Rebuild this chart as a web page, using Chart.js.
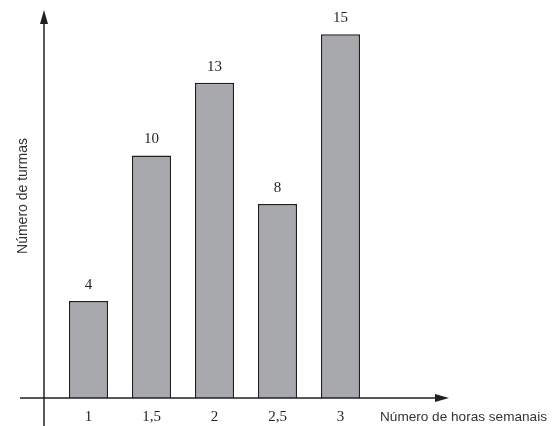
<!DOCTYPE html>
<html>
<head>
<meta charset="utf-8">
<script src="https://cdn.jsdelivr.net/npm/chart.js@4/dist/chart.umd.min.js"></script>
<style>
  html, body { margin: 0; padding: 0; background: #fff; }
  #wrap { width: 558px; height: 426px; position: relative; }
</style>
</head>
<body>
<div id="wrap"><canvas id="barChart"></canvas></div>
<script>
// dados do gráfico
const horas = ['1', '1,5', '2', '2,5', '3'];
const turmas = [4, 10, 13, 8, 15];
const yMax = 16;

const tituloX = 'Número de horas semanais';
const tituloY = 'Número de turmas';

// eixos com setas, rótulos e valores sobre as barras
const eixos = {
    id: 'eixos',
    afterDatasetsDraw(chart) {
        const ctx = chart.ctx;
        const xs = chart.scales.x;
        const ys = chart.scales.y;
        const y0 = ys.getPixelForValue(0);
        const eixoX = 44;

        ctx.save();
        ctx.strokeStyle = '#231f20';
        ctx.fillStyle = '#231f20';
        ctx.lineWidth = 1.5;

        // eixo horizontal
        ctx.beginPath();
        ctx.moveTo(20, y0);
        ctx.lineTo(440, y0);
        ctx.stroke();
        ctx.beginPath();
        ctx.moveTo(449, y0);
        ctx.lineTo(435, y0 - 4);
        ctx.lineTo(435, y0 + 4);
        ctx.closePath();
        ctx.fill();

        // eixo vertical
        ctx.beginPath();
        ctx.moveTo(eixoX, 426);
        ctx.lineTo(eixoX, 20);
        ctx.stroke();
        ctx.beginPath();
        ctx.moveTo(eixoX, 10);
        ctx.lineTo(eixoX - 4, 24);
        ctx.lineTo(eixoX + 4, 24);
        ctx.closePath();
        ctx.fill();

        // rótulos das categorias
        ctx.font = '15px "Liberation Serif", "DejaVu Serif", serif';
        ctx.textAlign = 'center';
        ctx.textBaseline = 'middle';
        horas.forEach((h, i) => {
            ctx.fillText(h, xs.getPixelForValue(i), y0 + 19);
        });

        // valores sobre as barras
        const meta = chart.getDatasetMeta(0);
        meta.data.forEach((bar, i) => {
            ctx.fillText(String(turmas[i]), bar.x, bar.y - 16);
        });

        // títulos dos eixos
        ctx.fillStyle = '#333';
        ctx.font = '13.6px "Liberation Sans", Arial, sans-serif';
        ctx.textAlign = 'left';
        ctx.fillText(tituloX, 380, y0 + 19);

        ctx.font = '14px "Liberation Sans", Arial, sans-serif';
        ctx.translate(23, 196);
        ctx.rotate(-Math.PI / 2);
        ctx.textAlign = 'center';
        ctx.fillText(tituloY, 0, 0);
        ctx.restore();
    }
};

const barCtx = document.getElementById('barChart').getContext('2d');
const barChart = new Chart(barCtx, {
    type: 'bar',
    data: {
        labels: horas,
        datasets: [{
            data: turmas,
            backgroundColor: '#a7a9ac',
            borderColor: '#231f20',
            borderWidth: 1.5,
            categoryPercentage: 1,
            barPercentage: 0.62
        }]
    },
    options: {
        responsive: true,
        maintainAspectRatio: false,
        animation: false,
        layout: {
            padding: { left: 57, right: 186, top: 10, bottom: 28 }
        },
        plugins: {
            legend: { display: false },
            tooltip: { enabled: false }
        },
        scales: {
            x: { display: false },
            y: { display: false, min: 0, max: yMax }
        }
    },
    plugins: [eixos]
});
</script>
</body>
</html>
